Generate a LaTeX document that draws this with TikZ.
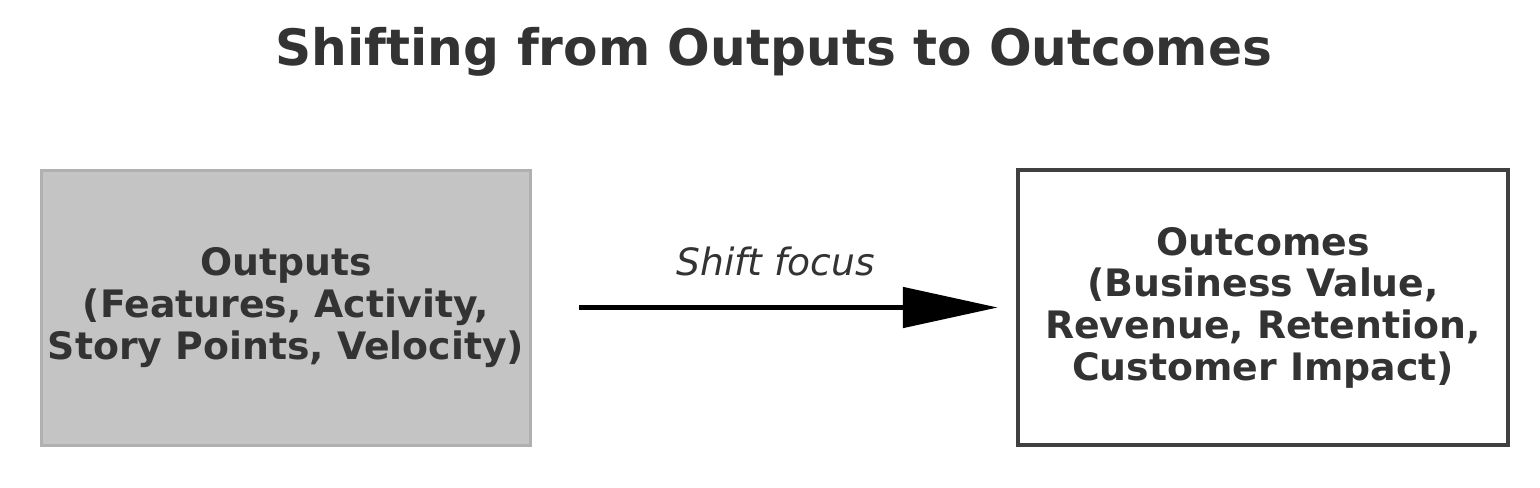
\documentclass[tikz,border=0pt]{standalone}
\usepackage{fontspec}
\setmainfont{DejaVu Sans}
\usetikzlibrary{positioning,arrows.meta}
\definecolor{inkgray}{HTML}{333333}
\definecolor{outfill}{HTML}{C4C4C4}
\definecolor{outedge}{HTML}{B0B0B0}
\definecolor{resedge}{HTML}{404040}
\tikzset{
    outbox/.style={draw=outedge, fill=outfill, line width=1.5pt, minimum width=244pt, minimum height=137.5pt, align=center, text=inkgray, font=\fontsize{18.9}{20.8}\selectfont\bfseries},
    resbox/.style={draw=resedge, fill=white, line width=2.25pt, minimum width=245pt, minimum height=137.5pt, align=center, text=inkgray, font=\fontsize{18.9}{20.8}\selectfont\bfseries},
    flow/.style={line width=2.5pt, -{Triangle[length=47.5pt, width=20pt]}}
}
\begin{document}
\begin{tikzpicture}[x=0.5pt, y=0.5pt]
\useasboundingbox (0,0) rectangle (1540,-487);
% title
\node[text=inkgray, font=\fontsize{25.1}{29}\selectfont\bfseries] (title) at (774,-52) {Shifting from Outputs to Outcomes};
% the two boxes
\node[outbox] (outputs) at (286,-307.5) {Outputs\\(Features, Activity,\\Story Points, Velocity)};
\node[resbox] (outcomes) at (1263,-307.5) {Outcomes\\(Business Value,\\Revenue, Retention,\\Customer Impact)};
% arrow between them
\draw[flow] ([xshift=23.5pt]outputs.east) -- ([xshift=-9pt]outputs.east -| outcomes.west)
    node[midway, above=11pt, xshift=-6.5pt, text=inkgray, font=\fontsize{18.8}{22}\selectfont\itshape] (shift) {Shift focus};
\end{tikzpicture}
\end{document}
